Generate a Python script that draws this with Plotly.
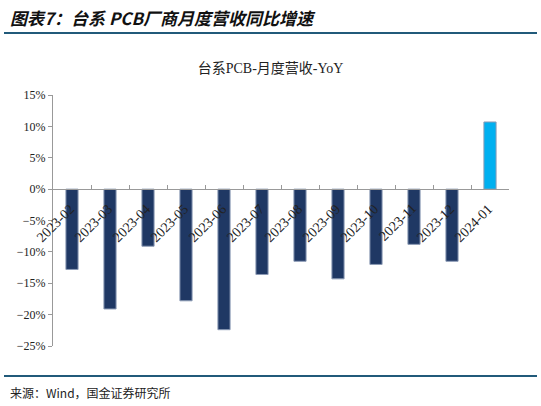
import plotly.graph_objs as go

months = ["2023-02", "2023-03", "2023-04", "2023-05", "2023-06", "2023-07",
          "2023-08", "2023-09", "2023-10", "2023-11", "2023-12", "2024-01"]
yoy = [-12.8, -19.1, -9.1, -17.8, -22.4, -13.6,
       -11.5, -14.3, -12.0, -8.8, -11.5, 10.7]
bar_colors = ["#1F3864"] * 11 + ["#00B0F0"]

serif = "Times New Roman, Liberation Serif, Noto Sans CJK SC, serif"
cjk = "Noto Sans CJK SC, sans-serif"

# paper coords: plot area is px 53..509 (x) and px 95..346 (y)
def px_x(p):
    return (p - 53) / 456.0

def px_y(p):
    return (346 - p) / 251.0

fig = go.Figure(
    go.Bar(
        x=months,
        y=yoy,
        marker_color=bar_colors,
        marker_line_color="#8C9BB5",
        marker_line_width=1,
        width=0.32,
    )
)

# month labels drawn as annotations so they sit over the bars, like the original
labels = []
for m in months:
    labels.append(dict(text=m, xref="x", yref="y", x=m, y=-1.0,
                       xanchor="right", yanchor="top", textangle=-45,
                       showarrow=False, xshift=8, yshift=-3,
                       font=dict(family=serif, size=14, color="#222")))

fig.update_layout(
    width=541, height=406,
    margin={"l": 53, "r": 32, "t": 95, "b": 60},
    plot_bgcolor="white",
    paper_bgcolor="white",
    showlegend=False,
    title=dict(text="台系PCB-月度营收-YoY", x=0.5, xanchor="center",
               y=1 - 68 / 406.0, yanchor="middle", automargin=False,
               font=dict(family=serif, size=14, color="#222")),
    shapes=[
        dict(type="line", xref="paper", yref="paper",
             x0=px_x(4), x1=px_x(537), y0=px_y(33), y1=px_y(33),
             line=dict(color="#215A7A", width=2)),
        dict(type="line", xref="paper", yref="paper",
             x0=px_x(4), x1=px_x(537), y0=px_y(376), y1=px_y(376),
             line=dict(color="#215A7A", width=2)),
    ],
    annotations=labels + [
        dict(text="<b><i>图表7：台系 PCB厂商月度营收同比增速</i></b>",
             xref="paper", yref="paper", x=px_x(8), y=px_y(17),
             xanchor="left", yanchor="middle", showarrow=False,
             font=dict(family=cjk, size=17, color="#111")),
        dict(text="来源：Wind，国金证券研究所",
             xref="paper", yref="paper", x=px_x(8), y=px_y(392),
             xanchor="left", yanchor="middle", showarrow=False,
             font=dict(family=cjk, size=12, color="#222")),
    ],
)

fig.update_xaxes(
    type="category", automargin=False, range=[-0.5, len(months) - 0.5],
    anchor="free", position=25 / 40.0,
    showline=True, linecolor="#999", linewidth=1,
    ticks="inside", tickson="boundaries", ticklen=4, tickcolor="#999",
    showticklabels=False, showgrid=False,
)

fig.update_yaxes(
    range=[-25, 15], dtick=5, ticksuffix="%", automargin=False,
    showline=True, linecolor="#999", linewidth=1,
    ticks="outside", ticklen=4, tickcolor="#999",
    showgrid=False, zeroline=False,
    tickfont=dict(family=serif, size=12, color="#222"),
)

# page body has an 8px default margin; drop it so the figure sits at the corner
fig.write_html("out.html", config={"displayModeBar": False},
               post_script="document.body.style.margin='0';")
